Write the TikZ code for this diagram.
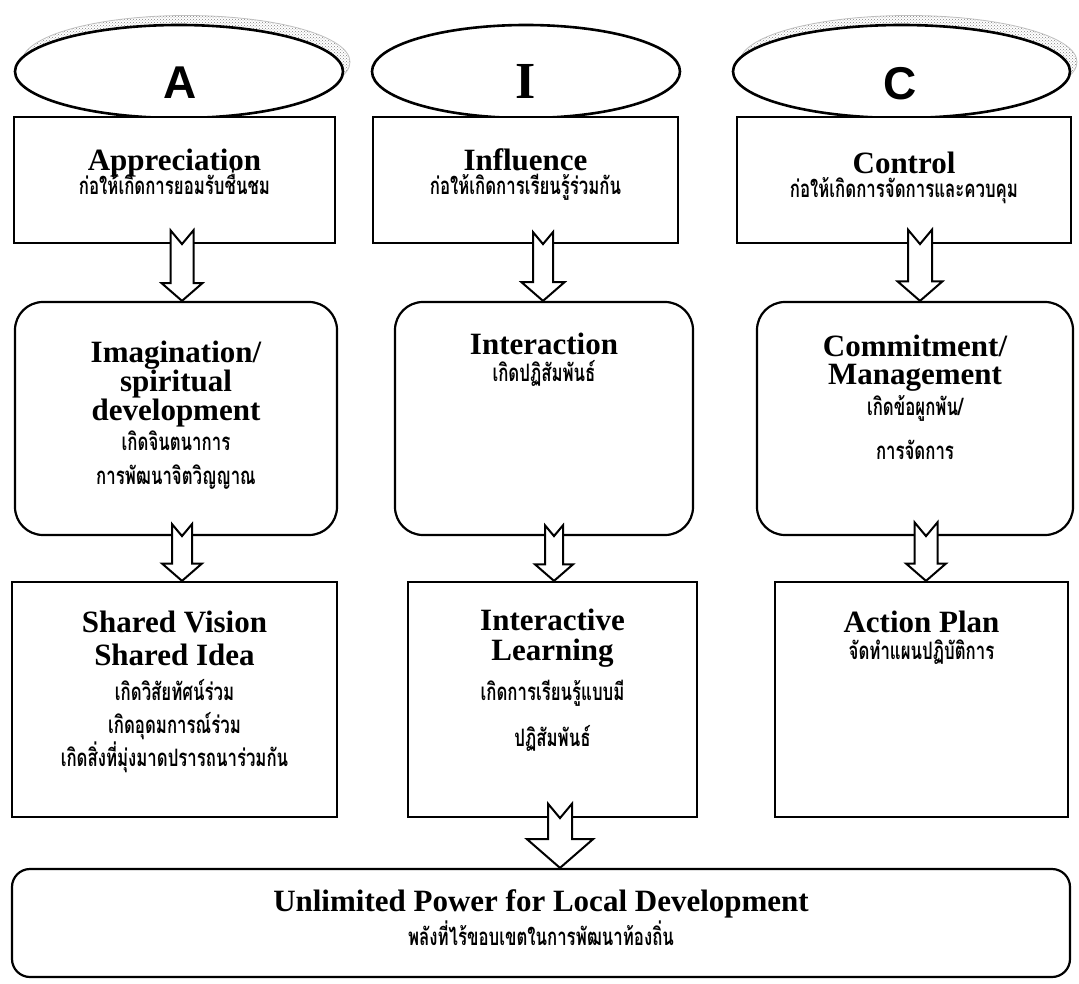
\documentclass[tikz,border=0pt]{standalone}
\usepackage{fontspec}
\setmainfont{Liberation Serif}
\newfontfamily\thaifont[Script=Thai, FakeStretch=0.7]{Loma}
\newfontfamily\lettersans{Liberation Sans}
\newcommand{\thaitxt}{\thaifont\bfseries\fontsize{24}{28}\selectfont}
\usepackage{tikz}
\usetikzlibrary{shapes.geometric, positioning, calc, patterns}

% hollow block arrow with notched tail: #1 tail, #2 tip, #3 half shaft, #4 half head
\newcommand{\blockarrow}[4]{%
  \draw[arrowbody] let \p1=(#1), \p2=(#2) in
    (\x1-#3,\y1+1.2*#3) -- (\x1,\y1) -- (\x1+#3,\y1+1.2*#3) -- (\x1+#3,\y2+0.87*#4)
    -- (\x1+#4,\y2+0.87*#4) -- (\x1,\y2) -- (\x1-#4,\y2+0.87*#4)
    -- (\x1-#3,\y2+0.87*#4) -- cycle;
}

\tikzset{
  box/.style={draw, line width=2.2pt, inner sep=0pt, fill=white},
  roundbox/.style={box, rounded corners=28pt},
  topic/.style={draw, ellipse, line width=2.6pt, inner sep=0pt, fill=white,
    minimum height=93pt},
  words/.style={inner sep=0pt, align=center, font=\bfseries\fontsize{31}{28}\selectfont,
    execute at begin node={\lineskiplimit=-100pt}},
  letter/.style={inner sep=0pt, font=\lettersans\bfseries\fontsize{46}{46}\selectfont},
  arrowbody/.style={draw, fill=white, line width=2pt, line join=miter},
  shade/.style={pattern=crosshatch dots, pattern color=gray, draw=gray!50, line width=0.8pt}
}

\begin{document}
\begin{tikzpicture}[x=1pt, y=-1pt]
\useasboundingbox (0,0) rectangle (1079,984);

% shadows behind A and C
\filldraw[shade] (186,62) ellipse [x radius=164, y radius=46.5];
\filldraw[shade] (908.5,62) ellipse [x radius=168.5, y radius=46.5];

% ellipses
\node[topic, minimum width=328pt] (ellA) at (179,71.5) {};
\node[topic, minimum width=308pt] (ellI) at (526,71.5) {};
\node[topic, minimum width=337pt] (ellC) at (901.5,71.5) {};
\node[letter] (A) at ($(ellA.center)+(1,11)$) {A};
\node[letter, font=\bfseries\fontsize{52}{52}\selectfont] (I) at ($(ellI.center)+(0,10)$) {I};
\node[letter] (C) at ($(ellC.center)+(-1,12)$) {C};

% first row
\node[box, minimum width=321pt, minimum height=126pt] (topA) at (174.5,180) {};
\node[box, minimum width=305pt, minimum height=126pt] (topI) at (525.5,180) {};
\node[box, minimum width=334pt, minimum height=126pt] (topC) at (904,180) {};
\node[words, below=33pt of topA.north] (topA-t)
  {Appreciation\\[-4pt]{\thaitxt ก่อให้เกิดการยอมรับชื่นชม}};
\node[words, below=33pt of topI.north] (topI-t)
  {Influence\\[-4pt]{\thaitxt ก่อให้เกิดการเรียนรู้ร่วมกัน}};
\node[words, below=36pt of topC.north] (topC-t)
  {Control\\[-4pt]{\thaitxt ก่อให้เกิดการจัดการและควบคุม}};

% second row
\node[roundbox, minimum width=322pt, minimum height=233pt] (midA) at (176,418.5) {};
\node[roundbox, minimum width=298pt, minimum height=233pt] (midI) at (544,418.5) {};
\node[roundbox, minimum width=316pt, minimum height=233pt] (midC) at (915,418.5) {};
\node[words, below=40pt of midA.north] (midA-t)
  {Imagination/\\[1pt]spiritual\\[1pt]development\\[2pt]{\thaitxt เกิดจินตนาการ}\\[6pt]{\thaitxt การพัฒนาจิตวิญญาณ}};
\node[words, below=32pt of midI.north] (midI-t)
  {Interaction\\[-1pt]{\thaitxt เกิดปฏิสัมพันธ์}};
\node[words, below=34pt of midC.north] (midC-t)
  {Commitment/\\[0pt]Management\\[3pt]{\thaitxt เกิดข้อผูกพัน/}\\[16pt]{\thaitxt การจัดการ}};

% third row
\node[box, minimum width=325pt, minimum height=235pt] (botA) at (174.5,699.5) {};
\node[box, minimum width=289pt, minimum height=235pt] (botI) at (552.5,699.5) {};
\node[box, minimum width=293pt, minimum height=235pt] (botC) at (921.5,699.5) {};
\node[words, below=30pt of botA.north] (botA-t)
  {Shared Vision\\[5pt]Shared Idea\\[7pt]{\thaitxt เกิดวิสัยทัศน์ร่วม}\\[5pt]{\thaitxt เกิดอุดมการณ์ร่วม}\\[5pt]{\thaitxt เกิดสิ่งที่มุ่งมาดปรารถนาร่วมกัน}};
\node[words, below=28pt of botI.north] (botI-t)
  {Interactive\\[2pt]Learning\\[12pt]{\thaitxt เกิดการเรียนรู้แบบมี}\\[18pt]{\thaitxt ปฏิสัมพันธ์}};
\node[words, below=30pt of botC.north] (botC-t)
  {Action Plan\\[-1pt]{\thaitxt จัดทำแผนปฏิบัติการ}};

% result
\node[box, rounded corners=18pt, minimum width=1058pt, minimum height=108pt] (power) at (541,923) {};
\node[words, below=22pt of power.north] (power-t)
  {Unlimited Power for Local Development\\[6pt]{\thaitxt พลังที่ไร้ขอบเขตในการพัฒนาท้องถิ่น}};

% arrows
\blockarrow{$(topA.south)+(7.5,0)$}{midA.north}{11.5pt}{20.5pt}
\blockarrow{$(midA.south)+(6,0)$}{botA.north}{10pt}{20pt}
\blockarrow{$(topI.south)+(17.5,0)$}{midI.north}{10pt}{21.5pt}
\blockarrow{$(midI.south)+(10,0)$}{botI.north}{9pt}{19pt}
\blockarrow{$(botI.south)+(7.5,0)$}{power.north}{12pt}{33pt}
\blockarrow{$(topC.south)+(16,0)$}{midC.north}{12pt}{22.5pt}
\blockarrow{$(midC.south)+(11,0)$}{botC.north}{11.5pt}{20pt}
\end{tikzpicture}
\end{document}
